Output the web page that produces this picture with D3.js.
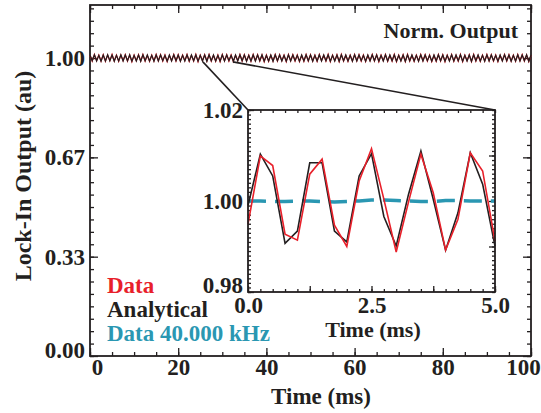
<!doctype html>
<html lang="en">
<head>
    <title>Lock-In Output</title>
    <script src="https://d3js.org/d3.v7.min.js"></script>
    <style type="text/css">
        body { margin: 0; background: #fff; }
        text { font-family: "Liberation Serif", "DejaVu Serif", serif; font-weight: bold; fill: #231f20; }
    </style>
</head>

<body>
</body>

<script type="text/javascript">

    var width  = 541;
    var height = 413;

    // main panel: samples every 0.5 ms, deviation from 1.00 in units of 0.001
    var mainStep = 0.5;
    var mainBlack = [
        10,-9,11,-10,9,-11,10,-10,11,-9,10,-11,9,-10,11,-10,10,-9,11,-11,
        9,-10,10,-11,11,-9,10,-10,9,-11,11,-10,10,-9,9,-11,10,-10,11,-9,
        10,-11,9,-10,11,-10,10,-9,11,-11,9,-10,10,-11,11,-9,10,-10,9,-11,
        11,-10,10,-9,9,-11,10,-10,11,-9,10,-11,9,-10,11,-10,10,-9,11,-11,
        9,-10,10,-11,11,-9,10,-10,9,-11,11,-10,10,-9,9,-11,10,-10,11,-9,
        10,-11,9,-10,11,-10,10,-9,11,-11,9,-10,10,-11,11,-9,10,-10,9,-11,
        11,-10,10,-9,9,-11,10,-10,11,-9,10,-11,9,-10,11,-10,10,-9,11,-11,
        9,-10,10,-11,11,-9,10,-10,9,-11,11,-10,10,-9,9,-11,10,-10,11,-9,
        10,-11,9,-10,11,-10,10,-9,11,-11,9,-10,10,-11,11,-9,10,-10,9,-11,
        11,-10,10,-9,9,-11,10,-10,11,-9,10,-11,9,-10,11,-10,10,-9,11,-11,
        10
    ];
    var mainRed = [
        9,-10,12,-9,10,-10,11,-11,10,-9,12,-10,10,-11,10,-9,11,-10,10,-12,
        10,-9,11,-10,12,-10,9,-11,10,-10,12,-9,11,-10,10,-12,9,-9,12,-10,
        11,-10,10,-9,12,-11,9,-10,12,-12,10,-9,11,-10,12,-10,9,-11,10,-12,
        12,-9,11,-10,10,-12,9,-9,12,-10,11,-10,10,-11,12,-9,11,-10,10,-12,
        10,-11,9,-10,12,-10,11,-9,10,-12,12,-9,11,-10,10,-12,9,-11,12,-10,
        11,-10,10,-11,12,-9,9,-10,12,-12,10,-9,11,-12,12,-10,9,-11,10,-10,
        12,-9,11,-10,10,-12,9,-9,12,-10,11,-12,10,-9,12,-11,9,-10,12,-12,
        10,-9,11,-12,12,-10,9,-11,10,-10,12,-9,11,-10,10,-12,9,-11,12,-10,
        11,-12,10,-9,12,-11,9,-10,12,-12,10,-9,11,-12,12,-10,9,-11,10,-10,
        12,-9,11,-10,10,-12,9,-9,12,-10,11,-10,10,-11,12,-9,11,-10,10,-12,
        9
    ];

    // inset: samples every 0.25 ms
    var insetTime  = [0,0.25,0.5,0.75,1,1.25,1.5,1.75,2,2.25,2.5,2.75,3,3.25,3.5,3.75,4,4.25,4.5,4.75,5];
    var insetRed   = [0.9949,1.0099,1.0078,0.9927,0.9914,1.0059,1.0092,0.9947,0.9900,1.0044,1.0115,1.0004,0.9888,0.9998,1.0103,1.0018,0.9892,0.9960,1.0106,1.0066,0.9912];
    var insetBlack = [0.9990,1.0103,1.0055,0.9907,0.9934,1.0084,1.0084,0.9934,0.9910,1.0055,1.0104,0.9966,0.9901,1.0015,1.0110,1.0004,0.9892,0.9974,1.0106,1.0037,0.9901];
    var insetCyan  = [1.0000,1.0000,0.9999,0.9999,1.0000,1.0000,0.9999,0.9998,0.9999,1.0000,1.0002,1.0002,1.0001,1.0000,0.9999,0.9999,1.0001,1.0001,1.0000,1.0000,1.0000];

    var mainYTicks  = [0, 1/3, 2/3, 1];
    var mainXTicks  = [0, 20, 40, 60, 80, 100];
    var insetXTicks = [0, 2.5, 5];
    var insetYTicks = [0.98, 1.00, 1.02];

    // zoom connector start points on the main trace (ms, au)
    var zoomFromX = [25.6, 32.4];
    var zoomFromY = 0.987;

    var legendNames  = ["Data", "Analytical", "Data 40.000 kHz"];
    var legendColors = ["#e8202a", "#231f20", "#2a97b2"];

    var red = "#e8202a", black = "#231f20", cyan = "#2a97b2";

    var svg = d3.select("body")
        .append("svg")
        .attr("width", width)
        .attr("height", height);

    var x = d3.scaleLinear().domain([0, 100]).range([90, 531]);
    var y = d3.scaleLinear().domain([0, 1.178]).range([356, 5]);

    var fmt2 = d3.format(".2f");

    function styleAxis(g) {
        g.select(".domain").remove();
        g.selectAll("line").attr("stroke", black).attr("stroke-width", 1.3);
        g.selectAll("text").style("font-size", "23px").attr("fill", black)
            .style("font-family", '"Liberation Serif", serif').style("font-weight", "bold");
    }

    // main axes, ticks pointing inward
    svg.append("g").attr("transform", "translate(0,356)")
        .call(d3.axisBottom(x).tickValues(d3.range(0, 100.1, 5)).tickSize(-4).tickFormat(""))
        .call(styleAxis);
    var xl = svg.append("g").attr("transform", "translate(0,356)")
        .call(d3.axisBottom(x).tickValues(mainXTicks).tickSize(-8).tickPadding(3).tickFormat(d3.format("d")))
        .call(styleAxis);
    xl.selectAll("text").filter(d => d === 0).attr("dx", 7);
    xl.selectAll("text").filter(d => d === 100).attr("dx", -8);
    svg.append("g").attr("transform", "translate(0,5)")
        .call(d3.axisTop(x).tickValues(d3.range(0, 100.1, 5)).tickSize(-4).tickFormat(""))
        .call(styleAxis);
    svg.append("g").attr("transform", "translate(0,5)")
        .call(d3.axisTop(x).tickValues(mainXTicks).tickSize(-8).tickFormat(""))
        .call(styleAxis);

    svg.append("g").attr("transform", "translate(90,0)")
        .call(d3.axisLeft(y).tickValues(d3.range(0, 1.178, 1/24)).tickSize(-4).tickFormat(""))
        .call(styleAxis);
    var yl = svg.append("g").attr("transform", "translate(90,0)")
        .call(d3.axisLeft(y).tickValues(mainYTicks).tickSize(-8).tickPadding(5).tickFormat(fmt2))
        .call(styleAxis);
    yl.selectAll("text").filter(d => d === 0).attr("dy", "0.05em");
    svg.append("g").attr("transform", "translate(531,0)")
        .call(d3.axisRight(y).tickValues(d3.range(0, 1.178, 1/24)).tickSize(-4).tickFormat(""))
        .call(styleAxis);
    svg.append("g").attr("transform", "translate(531,0)")
        .call(d3.axisRight(y).tickValues(mainYTicks).tickSize(-8).tickFormat(""))
        .call(styleAxis);

    svg.append("rect")
        .attr("x", 90).attr("y", 5).attr("width", 441).attr("height", 351)
        .attr("fill", "none").attr("stroke", black).attr("stroke-width", 1.8);

    // main traces
    var mainLine = d3.line()
        .x((d, i) => x(i * mainStep))
        .y(d => y(1 + d / 1000));

    svg.append("path").datum(mainRed)
        .attr("d", mainLine).attr("fill", "none").attr("stroke", red).attr("stroke-width", 1.3);
    svg.append("path").datum(mainBlack)
        .attr("d", mainLine).attr("fill", "none").attr("stroke", black).attr("stroke-width", 1.2);

    // inset
    var ix = d3.scaleLinear().domain([0, 5]).range([248, 495]);
    var iy = d3.scaleLinear().domain([0.98, 1.02]).range([292, 110]);

    svg.selectAll(".zoomline")
        .data(zoomFromX)
        .enter()
        .append("line")
        .attr("x1", d => x(d)).attr("y1", y(zoomFromY))
        .attr("x2", (d, i) => i === 0 ? 248 : 495).attr("y2", 110)
        .attr("stroke", black).attr("stroke-width", 1.6);

    svg.append("rect")
        .attr("x", 248).attr("y", 110).attr("width", 247).attr("height", 182)
        .attr("fill", "#fff");

    svg.append("g").attr("transform", "translate(0,292)")
        .call(d3.axisBottom(ix).tickValues(d3.range(0, 5.01, 0.25)).tickSize(-3).tickFormat(""))
        .call(styleAxis);
    svg.append("g").attr("transform", "translate(0,292)")
        .call(d3.axisBottom(ix).tickValues([0, 1.25, 2.5, 3.75, 5]).tickSize(-6).tickFormat(""))
        .call(styleAxis);
    svg.append("g").attr("transform", "translate(0,292)")
        .call(d3.axisBottom(ix).tickValues(insetXTicks).tickSize(0).tickPadding(5).tickFormat(d3.format(".1f")))
        .call(styleAxis);
    svg.append("g").attr("transform", "translate(0,110)")
        .call(d3.axisTop(ix).tickValues(d3.range(0, 5.01, 0.25)).tickSize(-3).tickFormat(""))
        .call(styleAxis);

    svg.append("g").attr("transform", "translate(248,0)")
        .call(d3.axisLeft(iy).tickValues(d3.range(0.98, 1.0201, 0.001)).tickSize(-3).tickFormat(""))
        .call(styleAxis);
    var iyl = svg.append("g").attr("transform", "translate(248,0)")
        .call(d3.axisLeft(iy).tickValues(insetYTicks).tickSize(-6).tickPadding(5).tickFormat(fmt2))
        .call(styleAxis);
    iyl.selectAll("text").filter(d => d === 0.98).attr("dy", "0.0em");
    svg.append("g").attr("transform", "translate(495,0)")
        .call(d3.axisRight(iy).tickValues(d3.range(0.98, 1.0201, 0.001)).tickSize(-3).tickFormat(""))
        .call(styleAxis);
    svg.append("g").attr("transform", "translate(495,0)")
        .call(d3.axisRight(iy).tickValues([0.99, 1.00, 1.01]).tickSize(-6).tickFormat(""))
        .call(styleAxis);

    var insetLine = d3.line()
        .x((d, i) => ix(insetTime[i]))
        .y(d => iy(d));

    svg.append("path").datum(insetCyan)
        .attr("d", insetLine).attr("fill", "none").attr("stroke", cyan)
        .attr("stroke-width", 3.5).attr("stroke-dasharray", "18,9");
    svg.append("path").datum(insetBlack)
        .attr("d", insetLine).attr("fill", "none").attr("stroke", black).attr("stroke-width", 1.6);
    svg.append("path").datum(insetRed)
        .attr("d", insetLine).attr("fill", "none").attr("stroke", red).attr("stroke-width", 1.6);

    svg.append("rect")
        .attr("x", 248).attr("y", 110).attr("width", 247).attr("height", 182)
        .attr("fill", "none").attr("stroke", black).attr("stroke-width", 1.8);

    svg.append("text")
        .attr("x", 373).attr("y", 337)
        .attr("text-anchor", "middle")
        .style("font-size", "22px")
        .text("Time (ms)");

    // titles
    svg.append("text")
        .attr("x", 321).attr("y", 404)
        .attr("text-anchor", "middle")
        .style("font-size", "23px")
        .text("Time (ms)");

    svg.append("text")
        .attr("transform", "translate(31,176) rotate(-90)")
        .attr("text-anchor", "middle")
        .style("font-size", "24px")
        .text("Lock-In Output (au)");

    svg.append("text")
        .attr("x", 518).attr("y", 38)
        .attr("text-anchor", "end")
        .style("font-size", "22px")
        .text("Norm. Output");

    // legend
    svg.selectAll(".legend")
        .data(legendNames)
        .enter()
        .append("text")
        .attr("x", 107)
        .attr("y", (d, i) => 293 + i * 24)
        .style("font-size", "23px")
        .style("fill", (d, i) => legendColors[i])
        .text(d => d);

</script>

</html>
